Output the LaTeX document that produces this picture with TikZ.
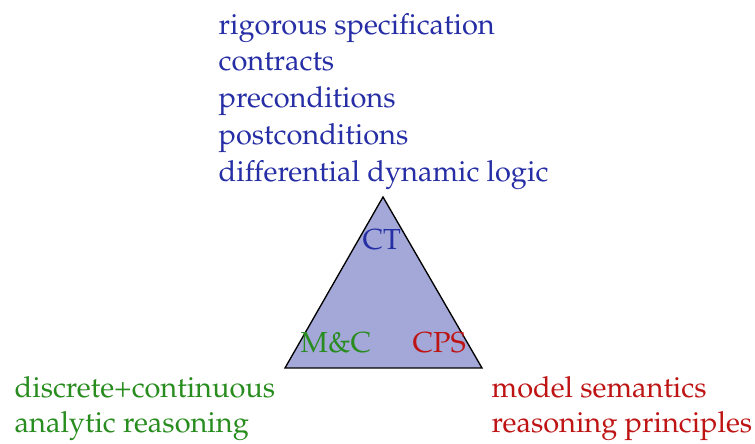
\documentclass[tikz,border=0pt]{standalone}
\usepackage[T1]{fontenc}
\usepackage{mathpazo}
\usepackage{tikz}
\usetikzlibrary{positioning}
\definecolor{ctblue}{RGB}{38,46,165}
\definecolor{mcgreen}{RGB}{40,140,30}
\definecolor{cpsred}{RGB}{190,20,20}
\definecolor{trifill}{RGB}{163,168,216}

\begin{document}
\begin{tikzpicture}[
    x=0.3pt,
    y=-0.3pt,
    every node/.style={inner sep=0pt},
    listitem/.style={anchor=base west, font=\fontsize{8.7}{10}\selectfont},
    corner/.style={anchor=base west, font=\fontsize{8.7}{10}\selectfont}
]
    \useasboundingbox (0,0) rectangle (755,444);

    % the triangle, apex on top
    \coordinate (top) at (383,197);
    \coordinate (bl) at (285,368);
    \coordinate (br) at (482,368);
    \draw[fill=trifill, line width=0.4pt] (top) -- (bl) -- (br) -- cycle;

    \node[corner, text=ctblue] (ct) at (362,250) {CT};
    \node[corner, text=mcgreen] (mc) at (300,353) {M\&C};
    \node[corner, text=cpsred] (cps) at (412,353) {CPS};

    % CT list above the apex
    \node[listitem, text=ctblue] (ct1) at (218,35) {rigorous specification};
    \node[listitem, text=ctblue] (ct2) at (218,71) {contracts};
    \node[listitem, text=ctblue] (ct3) at (218,108) {preconditions};
    \node[listitem, text=ctblue] (ct4) at (218,145) {postconditions};
    \node[listitem, text=ctblue] (ct5) at (218,182) {differential dynamic logic};

    % M&C and CPS lists below the base
    \node[listitem, text=mcgreen] (mc1) at (14,398) {discrete+continuous};
    \node[listitem, text=mcgreen] (mc2) at (14,433) {analytic reasoning};
    \node[listitem, text=cpsred] (cps1) at (491,398) {model semantics};
    \node[listitem, text=cpsred] (cps2) at (491,433) {reasoning principles};
\end{tikzpicture}
\end{document}
